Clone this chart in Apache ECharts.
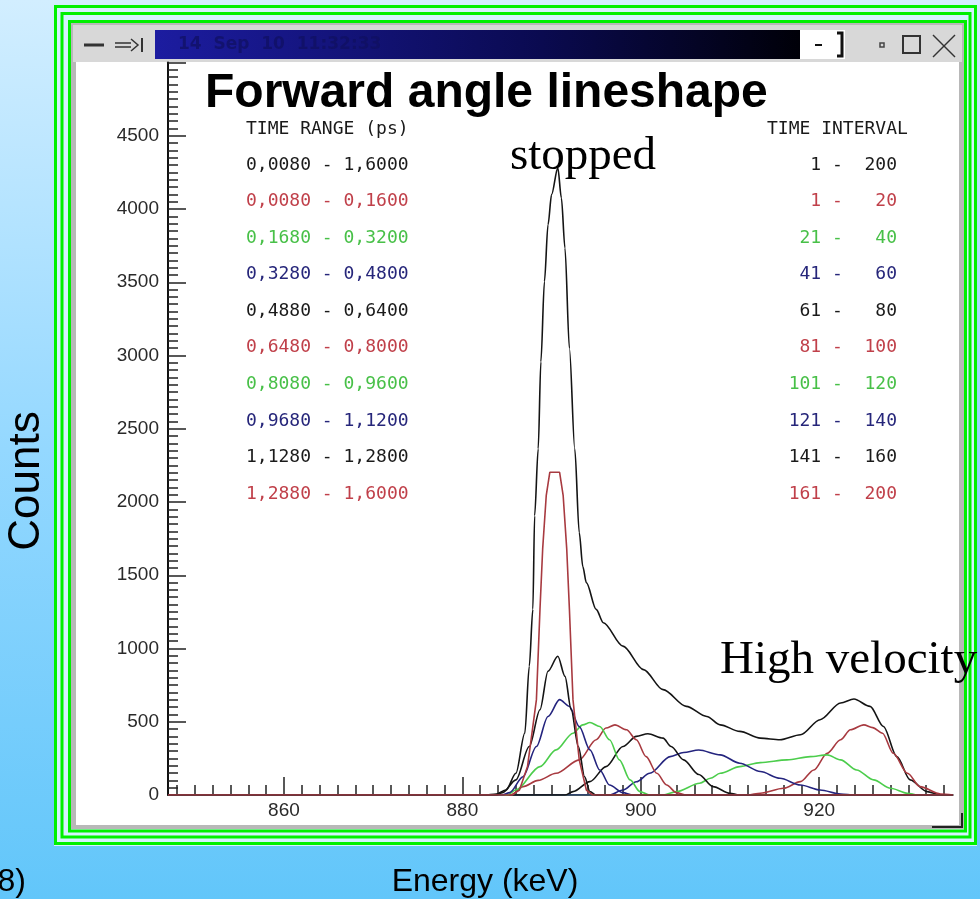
<!DOCTYPE html>
<html>
<head>
<meta charset="utf-8">
<script src="https://cdn.jsdelivr.net/npm/echarts@6/dist/echarts.min.js"></script>
<style>
  html, body { margin: 0; padding: 0; }
  #chart { width: 980px; height: 899px; }
</style>
</head>
<body>
<div id="chart"></div>
<script>
// axes
var xMin = 847, xMax = 935;
var xMajorTicks = [860, 880, 900, 920];
var yMax = 5000, yStep = 500;

// legend: time range (ps) and time interval of each curve
var rangeFrom = [0.008, 0.008, 0.168, 0.328, 0.488, 0.648, 0.808, 0.968, 1.128, 1.288];
var rangeTo = [1.6, 0.16, 0.32, 0.48, 0.64, 0.8, 0.96, 1.12, 1.28, 1.6];
var intervalFrom = [1, 1, 21, 41, 61, 81, 101, 121, 141, 161];
var intervalTo = [200, 20, 40, 60, 80, 100, 120, 140, 160, 200];
var lineColors = ['#141414', '#a83a40', '#4ccd4c', '#24247e', '#141414', '#a83a40', '#4ccd4c', '#24247e', '#141414', '#a83a40'];
var textColors = ['#1a1a1a', '#c0404a', '#48c048', '#26267a', '#1a1a1a', '#c0404a', '#48c048', '#26267a', '#1a1a1a', '#c0404a'];

// curves, [energy keV, counts]
var sumAll = [[847,0],[882.5,0],[883.8,7],[884.9,34],[886,148],[887,423],[887.5,879],[887.9,1267],[888.1,1906],[888.5,2363],[888.8,2957],[889.2,3505],[889.6,3892],[890,4098],[890.7,4281],[891.1,4075],[891.5,3733],[892,3048],[892.6,2363],[893.1,1792],[893.5,1560],[893.9,1450],[895,1267],[895.8,1176],[898,1016],[900.3,856],[902.5,719],[905.1,605],[907.4,536],[908.9,479],[911.1,434],[913.4,388],[915.6,377],[917.9,411],[920.1,514],[922.4,628],[923.9,655],[925.7,605],[927.2,468],[928.7,262],[930.2,103],[932.1,23],[933.6,0],[935,0]];
var int1to20 = [[847,0],[912,0],[913.4,12],[916,46],[917.9,91],[919.4,171],[920.9,285],[922.4,377],[923.5,445],[925,479],[926,460],[927.1,422],[928.3,285],[929.9,148],[931.3,57],[933.6,7],[935,0]];
var int21to40 = [[847,0],[902.5,0],[904,23],[906.6,80],[907.8,114],[908.9,148],[911.1,194],[913.4,221],[916.4,240],[919,262],[920.9,274],[922.4,240],[924.2,171],[926.1,103],[928,46],[929.9,12],[931,0],[935,0]];
var int41to60 = [[847,0],[896.5,0],[898,34],[899.5,90],[901,148],[903.3,262],[904.8,290],[906.5,307],[908.9,274],[911.1,217],[913.4,160],[915.6,114],[917.9,68],[920.1,34],[922.4,7],[924,0],[935,0]];
var int61to80 = [[847,0],[891.5,0],[892.4,23],[894.3,91],[896.1,194],[898,331],[899.5,400],[900.8,418],[902.5,388],[903.4,331],[904.8,240],[906.5,140],[908.1,57],[910,12],[911,0],[935,0]];
var int81to100 = [[847,0],[885.5,0],[886.8,57],[888.5,100],[890.5,148],[893.1,240],[895,377],[896.1,457],[897.1,479],[898.4,445],[899.5,377],[900.6,262],[901.8,148],[902.9,68],[904,16],[905,0],[935,0]];
var int101to120 = [[847,0],[885,0],[886,34],[888.7,194],[890.5,308],[892.4,422],[893.5,479],[894.3,495],[895.4,468],[896.5,377],[897.6,240],[898.8,103],[899.9,23],[901,0],[935,0]];
var int121to140 = [[847,0],[884.5,0],[885.3,16],[886.8,125],[888.3,331],[889.6,536],[890.9,651],[892,605],[893.1,468],[894.3,308],[895.4,171],[896.5,68],[898,16],[899,0],[935,0]];
var int141to160 = [[847,0],[883.8,0],[884.5,16],[886,103],[887.5,331],[888.7,582],[889.6,845],[890.7,947],[891.5,810],[892.2,582],[893,331],[893.7,125],[894.3,23],[895,0],[935,0]];
var int161to200 = [[847,0],[885.5,0],[886.4,34],[887.3,194],[888.3,651],[888.7,1267],[889,1678],[889.4,2043],[889.8,2203],[890.9,2203],[891.3,2043],[891.7,1678],[892,1267],[892.4,651],[893.1,240],[893.9,34],[894.6,0],[935,0]];

var curves = [sumAll, int1to20, int21to40, int41to60, int61to80, int81to100, int101to120, int121to140, int141to160, int161to200];

function fmtRange(v) { return v.toFixed(4).replace('.', ','); }

var minorX = [];
for (var v = 848; v <= 934; v += 2) minorX.push(v);

var chart = echarts.init(document.getElementById('chart'));

var series = curves.map(function (d, i) {
  return {
    name: fmtRange(rangeFrom[i]) + ' - ' + fmtRange(rangeTo[i]),
    type: 'line',
    data: d,
    showSymbol: false,
    smooth: i === 9 ? false : 0.3,
    smoothMonotone: 'x',
    lineStyle: { color: lineColors[i], width: 1.6 },
    itemStyle: { color: lineColors[i] },
    z: 3 + i
  };
});

var mono = 'DejaVu Sans Mono, monospace';
var legendTexts = [
  { type: 'text', x: 246, y: 129, z: 100, style: { text: 'TIME RANGE (ps)', font: '18px ' + mono, fill: '#1a1a1a', verticalAlign: 'middle' } },
  { type: 'text', x: 767, y: 129, z: 100, style: { text: 'TIME INTERVAL', font: '18px ' + mono, fill: '#1a1a1a', verticalAlign: 'middle' } }
];
for (var i = 0; i < rangeFrom.length; i++) {
  var yy = 165 + i * 36.55;
  legendTexts.push({ type: 'text', x: 246, y: yy, z: 100, style: {
    text: fmtRange(rangeFrom[i]) + ' - ' + fmtRange(rangeTo[i]),
    font: '18px ' + mono, fill: textColors[i], verticalAlign: 'middle' } });
  legendTexts.push({ type: 'text', x: 897, y: yy, z: 100, style: {
    text: String(intervalFrom[i]).padStart(3, ' ') + ' - ' + String(intervalTo[i]).padStart(4, ' '),
    font: '18px ' + mono, fill: textColors[i], align: 'right', verticalAlign: 'middle' } });
}

var green = '#00f000';
var frame = [
  { type: 'rect', z: -20, shape: { x: 0, y: 0, width: 980, height: 899 },
    style: { fill: new echarts.graphic.LinearGradient(0, 0, 0, 1, [
      { offset: 0, color: '#d2eeff' }, { offset: 0.5, color: '#94d8ff' }, { offset: 1, color: '#62c6fa' }]) } },
  { type: 'rect', z: -19, shape: { x: 54, y: 5, width: 923, height: 841 }, style: { fill: '#d4f2ff' } },
  { type: 'rect', z: -18, shape: { x: 55.5, y: 6.5, width: 920, height: 837 }, style: { fill: null, stroke: green, lineWidth: 3 } },
  { type: 'rect', z: -18, shape: { x: 62, y: 13.5, width: 908, height: 823.5 }, style: { fill: null, stroke: green, lineWidth: 3 } },
  { type: 'rect', z: -18, shape: { x: 69.5, y: 21.5, width: 896, height: 809.5 }, style: { fill: null, stroke: green, lineWidth: 3 } },
  { type: 'rect', z: -17, shape: { x: 71, y: 23, width: 893, height: 806 }, style: { fill: '#b8b8b8' } },
  { type: 'rect', z: -16, shape: { x: 73, y: 25, width: 889, height: 37 }, style: { fill: '#d8d8d8' } },
  { type: 'rect', z: -15, shape: { x: 155, y: 30, width: 645, height: 29 },
    style: { fill: new echarts.graphic.LinearGradient(0, 0, 1, 0, [
      { offset: 0, color: '#1c1ca0' }, { offset: 0.6, color: '#0a0a50' }, { offset: 1, color: '#000008' }]) } },
  { type: 'text', x: 178, y: 45, z: -14, style: { text: '14  Sep  10  11:32:33', font: 'bold 17px DejaVu Sans, sans-serif', fill: '#101060', opacity: 0.7, verticalAlign: 'middle' } },
  { type: 'rect', z: -15, shape: { x: 800, y: 30, width: 45, height: 29 }, style: { fill: '#ffffff' } },
  { type: 'line', z: -14, shape: { x1: 815, y1: 45, x2: 822, y2: 45 }, style: { stroke: '#111', lineWidth: 2 } },
  { type: 'polyline', z: -14, shape: { points: [[837, 33], [842, 33], [842, 56], [837, 56]] }, style: { stroke: '#111', lineWidth: 3, fill: null } },
  { type: 'rect', z: -14, shape: { x: 880, y: 43, width: 4, height: 4 }, style: { fill: null, stroke: '#444', lineWidth: 1.5 } },
  { type: 'rect', z: -14, shape: { x: 903, y: 36, width: 17, height: 17 }, style: { fill: null, stroke: '#333', lineWidth: 2 } },
  { type: 'line', z: -14, shape: { x1: 933, y1: 35, x2: 955, y2: 57 }, style: { stroke: '#333', lineWidth: 1.5 } },
  { type: 'line', z: -14, shape: { x1: 955, y1: 35, x2: 933, y2: 57 }, style: { stroke: '#333', lineWidth: 1.5 } },
  { type: 'line', z: -14, shape: { x1: 84, y1: 45, x2: 104, y2: 45 }, style: { stroke: '#333', lineWidth: 3 } },
  { type: 'line', z: -14, shape: { x1: 115, y1: 43, x2: 131, y2: 43 }, style: { stroke: '#333', lineWidth: 1.5 } },
  { type: 'line', z: -14, shape: { x1: 115, y1: 47, x2: 131, y2: 47 }, style: { stroke: '#333', lineWidth: 1.5 } },
  { type: 'polyline', z: -14, shape: { points: [[131, 39], [138, 45], [131, 51]] }, style: { stroke: '#333', lineWidth: 1.5, fill: null } },
  { type: 'line', z: -14, shape: { x1: 142, y1: 38, x2: 142, y2: 52 }, style: { stroke: '#333', lineWidth: 2 } },
  { type: 'rect', z: -13, shape: { x: 76, y: 62, width: 883, height: 763 }, style: { fill: '#ffffff' } },
  { type: 'polyline', z: 50, shape: { points: [[932, 827], [962, 827], [962, 813]] }, style: { stroke: '#222', lineWidth: 2, fill: null } }
];

var labels = [
  { type: 'text', x: 205, y: 94, z: 100, style: { text: 'Forward angle lineshape', font: 'bold 48px Liberation Sans, Arial, sans-serif', fill: '#000', verticalAlign: 'middle' } },
  { type: 'text', x: 583, y: 157, z: 100, style: { text: 'stopped', font: '47px Liberation Serif, Times New Roman, serif', fill: '#000', align: 'center', verticalAlign: 'middle' } },
  { type: 'text', x: 720, y: 661, z: 100, style: { text: 'High velocity', font: '47px Liberation Serif, Times New Roman, serif', fill: '#000', verticalAlign: 'middle' } },
  { type: 'text', x: 27, y: 481, rotation: Math.PI / 2, z: 100, style: { text: 'Counts', font: '44px Liberation Sans, Arial, sans-serif', fill: '#000', align: 'center', verticalAlign: 'middle' } },
  { type: 'text', x: 485, y: 882, z: 100, style: { text: 'Energy (keV)', font: '32px Liberation Sans, Arial, sans-serif', fill: '#000', align: 'center', verticalAlign: 'middle' } },
  { type: 'text', x: 26, y: 882, z: 100, style: { text: '8)', font: '32px Liberation Sans, Arial, sans-serif', fill: '#000', align: 'right', verticalAlign: 'middle' } }
];

var axisLabelFont = { fontFamily: 'Liberation Sans, Arial, sans-serif', fontSize: 19, color: '#2a2a2a' };

chart.setOption({
  animation: false,
  grid: { left: 168, right: 27, top: 62.5, bottom: 104 },
  graphic: frame.concat(legendTexts, labels),
  xAxis: [
    {
      type: 'value', min: xMin, max: xMax, position: 'bottom',
      axisLine: { show: true, lineStyle: { color: '#111', width: 1.5 } },
      axisTick: { show: true, inside: true, length: 10, customValues: minorX, lineStyle: { color: '#222', width: 1.5 } },
      axisLabel: { show: false },
      splitLine: { show: false }
    },
    {
      type: 'value', min: xMin, max: xMax, position: 'bottom',
      axisLine: { show: false },
      axisTick: { show: true, inside: true, length: 18, customValues: xMajorTicks, lineStyle: { color: '#222', width: 1.5 } },
      axisLabel: Object.assign({ customValues: xMajorTicks, margin: 6, formatter: function (v) { return String(v); } }, axisLabelFont),
      splitLine: { show: false }
    }
  ],
  yAxis: {
    type: 'value', min: 0, max: yMax, interval: yStep,
    axisLine: { show: true, lineStyle: { color: '#111', width: 2 } },
    axisTick: { show: true, inside: true, length: 18, lineStyle: { color: '#222', width: 1.5 } },
    minorTick: { show: true, splitNumber: 10, length: 10, lineStyle: { color: '#222', width: 1.5 } },
    axisLabel: Object.assign({ margin: 9, showMaxLabel: false, formatter: function (v) { return String(v); } }, axisLabelFont),
    splitLine: { show: false },
    minorSplitLine: { show: false }
  },
  series: series
});
</script>
</body>
</html>
